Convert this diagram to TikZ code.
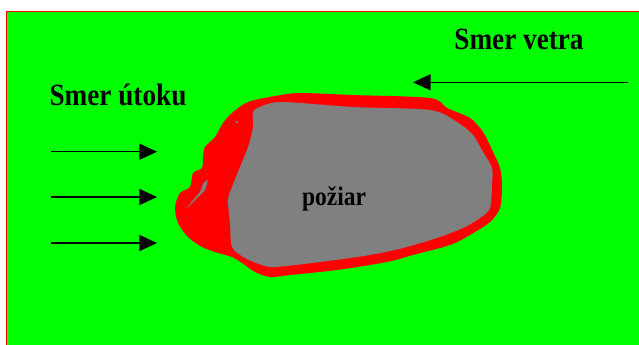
\documentclass[tikz,border=0pt]{standalone}
\usepackage{fontspec}
\setmainfont{Liberation Serif}[FakeStretch=0.88]
\usetikzlibrary{arrows.meta}

\definecolor{grass}{RGB}{0,255,0}
\definecolor{flame}{RGB}{255,0,0}
\definecolor{ash}{RGB}{128,128,128}

\tikzset{
	arrowline/.style={line width=1pt, -{Triangle[length=0.44cm,width=0.4cm]}},
	heading/.style={font=\fontsize{22}{26}\selectfont\bfseries, inner sep=0pt},
	firetext/.style={font=\fontsize{19}{22}\selectfont\bfseries, inner sep=0pt}
}

\begin{document}
\begin{tikzpicture}[x=0.025cm, y=-0.025cm]
			\useasboundingbox (0,0) rectangle (639,344);
			\clip (0,0) rectangle (639,344);
			\draw[flame, line width=1pt, fill=grass] (6.5,11.5) rectangle (660,360);
			
			% burning edge and burnt area
			\fill[flame] plot[smooth cycle] coordinates {(248,102) (275,96) (300,93) (353,95) (430,98) (447,108) (470,118) (483,132) (493,152) (500,168) (502,185) (500,208) (490,222) (470,235) (450,245) (413,255) (387,262) (337,270) (290,275) (270,277) (255,272) (242,263) (232,257) (218,253) (202,247) (188,237) (178,223) (175,207) (180,193) (190,187) (193,173) (202,168) (203,157) (205,147) (215,137) (223,123) (232,113)};
			\fill[ash] plot[smooth cycle] coordinates {(253,112) (262,106) (283,102) (353,107) (430,110) (457,122) (473,135) (483,152) (492,168) (492,185) (490,208) (480,218) (463,228) (437,238) (403,248) (370,255) (320,262) (275,267) (262,265) (245,258) (232,247) (230,223) (228,200) (232,187) (240,167) (248,147) (253,127)};
			\fill[ash] plot[smooth cycle, tension=0.4] coordinates {(207.7,180) (205,190) (196.7,198.3) (188.3,206.7) (186.7,208.3) (191.7,201.7) (200,191.7) (203.3,183.3)};
			\fill[ash] (237,122) circle (1pt);
			
			\node[heading, anchor=base] (wind) at (519,49.3) {Smer vetra};
			\node[heading, anchor=base] (attack) at (118,105.7) {Smer útoku};
			\node[firetext, anchor=base] (fire) at (334,205.7) {požiar};
			
			\coordinate (windstart) at (628,82.3);
			\coordinate (windend) at (413,82.3);
			\draw[arrowline] (windstart) -- (windend);
			
			\foreach \y [count=\i] in {151.7,197,243}
			{
				\coordinate (attackstart\i) at (51,\y);
				\coordinate (attackend\i) at (157,\y);
				\draw[arrowline] (attackstart\i) -- (attackend\i);
			}
\end{tikzpicture}
\end{document}
